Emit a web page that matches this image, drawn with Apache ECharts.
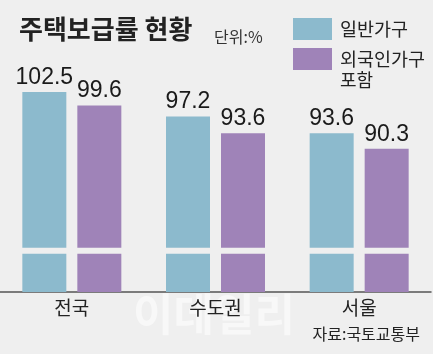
<!DOCTYPE html>
<html>
<head>
<meta charset="utf-8">
<script src="https://cdn.jsdelivr.net/npm/echarts@6/dist/echarts.min.js"></script>
<style>
  html, body { margin: 0; padding: 0; background: #efefef; }
  #chart { width: 433px; height: 354px; }
</style>
</head>
<body>
<div id="chart"></div>
<script>
// 주택보급률 (단위:%)
const regions = ['전국', '수도권', '서울'];
const generalHouseholds = [102.5, 97.2, 93.6];
const withForeigners = [99.6, 93.6, 90.3];
const seriesNames = ['일반가구', '외국인가구 포함'];
// 축 생략 구간 (빈 띠로 표시)
const breakBand = [67.7, 69.0];

const bg = '#efefef';
const colors = ['#8cbacd', '#9f83b8'];
const numFont = '"Liberation Sans", Arial, sans-serif';
const krFont = '"Noto Sans CJK KR", "Noto Sans", sans-serif';

let myChart = echarts.init(document.getElementById('chart'));
myChart.setOption({
  backgroundColor: bg,
  color: colors,
  animation: false,
  title: [
    {
      text: '주택보급률 현황',
      left: 14, top: 11,
      textStyle: { fontFamily: krFont, fontSize: 26, fontWeight: 'bold', color: '#222' }
    },
    {
      text: '단위:%',
      left: 209, top: 24,
      textStyle: { fontFamily: krFont, fontSize: 16, fontWeight: 'normal', color: '#333' }
    },
    {
      text: '자료:국토교통부',
      right: 8, bottom: 7,
      textStyle: { fontFamily: krFont, fontSize: 16, fontWeight: 'normal', color: '#222' }
    }
  ],
  graphic: [
    {
      type: 'text',
      left: 133, top: 292,
      z: 0,
      style: {
        text: '이데일리',
        fontFamily: krFont, fontSize: 44, fontWeight: 'bold',
        fill: 'rgba(255,255,255,0.55)'
      }
    },
    {
      // 범례 두 번째 항목의 둘째 줄
      type: 'text',
      left: 340, top: 71,
      style: {
        text: seriesNames[1].split(' ')[1],
        fontFamily: krFont, fontSize: 18, fill: '#222'
      }
    }
  ],
  legend: {
    orient: 'vertical',
    left: 293, top: 18,
    padding: 0,
    itemWidth: 39, itemHeight: 22, itemGap: 8,
    icon: 'rect',
    formatter: name => name.split(' ')[0],
    textStyle: { fontFamily: krFont, fontSize: 18.5, color: '#222', padding: [0, 0, 0, 3] },
    data: seriesNames
  },
  grid: { left: 0, right: 2, top: 57, bottom: 62 },
  xAxis: {
    type: 'category',
    data: regions,
    axisTick: { show: false },
    axisLine: { lineStyle: { color: '#555', width: 1.5 } },
    axisLabel: { fontFamily: krFont, fontSize: 19, color: '#222', margin: 6 }
  },
  yAxis: {
    type: 'value',
    min: 59.5, max: 110,
    show: false
  },
  series: [
    {
      name: seriesNames[0],
      type: 'bar',
      barWidth: 44,
      barGap: '25%',
      data: generalHouseholds,
      label: {
        show: true, position: 'top', distance: 3,
        fontFamily: numFont, fontSize: 23, color: '#1a1a1a'
      },
      markArea: {
        silent: true,
        z: 10,
        itemStyle: { color: bg },
        data: [[{ yAxis: breakBand[0] }, { yAxis: breakBand[1] }]]
      }
    },
    {
      name: seriesNames[1],
      type: 'bar',
      barWidth: 44,
      data: withForeigners,
      label: {
        show: true, position: 'top', distance: 3,
        fontFamily: numFont, fontSize: 23, color: '#1a1a1a'
      }
    }
  ]
});
</script>
</body>
</html>
